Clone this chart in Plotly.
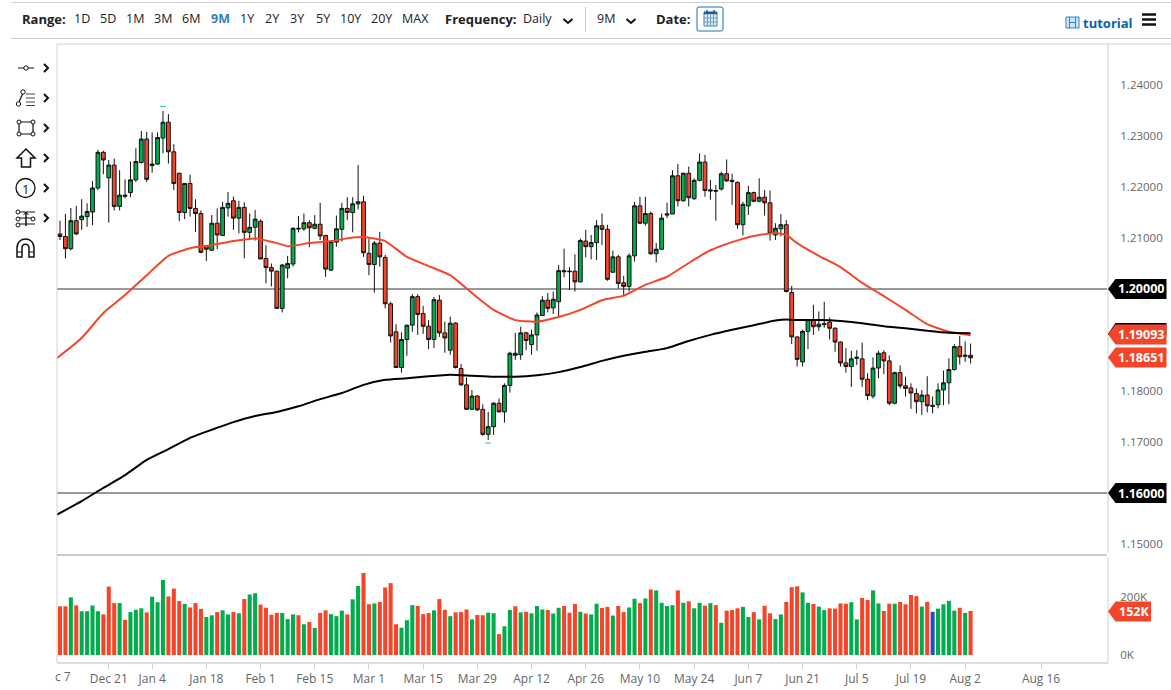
import re
import plotly.graph_objects as go

# candles, one value per trading day
opens = [1.2108,1.2103,1.2079,1.2134,1.2136,1.2142,1.2151,1.2198,1.2268,1.2218,
1.2243,1.2162,1.2184,1.2189,1.2214,1.2248,1.2294,1.2242,1.2245,1.2296,
1.2327,1.2269,1.2227,1.2150,1.2207,1.2158,1.2148,1.2085,1.2076,1.2129,
1.2105,1.2159,1.2173,1.2139,1.2160,1.2111,1.2121,1.2133,1.2060,1.2042,
1.2035,1.1962,1.2041,1.2049,1.2119,1.2118,1.2130,1.2119,1.2127,1.2105,
1.2037,1.2092,1.2117,1.2158,1.2150,1.2167,1.2171,1.2070,1.2048,1.2090,
1.2062,1.1971,1.1916,1.1846,1.1901,1.1929,1.1985,1.1952,1.1927,1.1901,
1.1978,1.1914,1.1880,1.1933,1.1844,1.1812,1.1764,1.1790,1.1764,1.1715,
1.1730,1.1776,1.1759,1.1811,1.1874,1.1871,1.1914,1.1891,1.1910,1.1948,
1.1978,1.1963,1.1975,1.2036,1.2035,1.2035,1.2014,1.2094,1.2083,1.2091,
1.2124,1.2117,1.2033,1.2063,1.2012,1.2005,1.2065,1.2163,1.2129,1.2148,
1.2069,1.2078,1.2145,1.2147,1.2222,1.2173,1.2227,1.2177,1.2213,1.2249,
1.2192,1.2193,1.2196,1.2226,1.2213,1.2209,1.2126,1.2163,1.2189,1.2172,
1.2180,1.2169,1.2106,1.2118,1.2126,1.1993,1.1906,1.1857,1.1917,1.1940,
1.1926,1.1930,1.1935,1.1923,1.1896,1.1855,1.1848,1.1864,1.1863,1.1823,
1.1790,1.1845,1.1875,1.1859,1.1776,1.1836,1.1810,1.1806,1.1795,1.1779,
1.1792,1.1772,1.1773,1.1802,1.1816,1.1842,1.1887,1.1868,1.1870]

highs = [1.2134,1.2147,1.2159,1.2163,1.2176,1.2168,1.2212,1.2273,1.2271,1.2253,
1.2256,1.2233,1.2215,1.2250,1.2276,1.2310,1.2308,1.2307,1.2307,1.2349,
1.2343,1.2284,1.2228,1.2208,1.2224,1.2176,1.2154,1.2086,1.2145,1.2158,
1.2171,1.2190,1.2181,1.2173,1.2170,1.2148,1.2155,1.2136,1.2086,1.2050,
1.2036,1.2049,1.2065,1.2121,1.2143,1.2148,1.2135,1.2145,1.2169,1.2106,
1.2096,1.2144,1.2169,1.2180,1.2180,1.2243,1.2183,1.2099,1.2094,1.2112,
1.2067,1.1975,1.1931,1.1915,1.1930,1.1990,1.1990,1.1967,1.1939,1.1984,
1.1988,1.1936,1.1946,1.1935,1.1853,1.1827,1.1802,1.1792,1.1774,1.1759,
1.1778,1.1785,1.1815,1.1877,1.1914,1.1926,1.1916,1.1920,1.1954,1.1986,
1.1992,1.1995,1.2047,1.2079,1.2043,1.2068,1.2099,1.2116,1.2106,1.2135,
1.2148,1.2126,1.2075,1.2067,1.2026,1.2070,1.2171,1.2181,1.2181,1.2152,
1.2090,1.2148,1.2169,1.2233,1.2245,1.2228,1.2240,1.2217,1.2266,1.2263,
1.2214,1.2204,1.2230,1.2254,1.2226,1.2211,1.2171,1.2202,1.2191,1.2217,
1.2194,1.2193,1.2129,1.2147,1.2135,1.2006,1.1907,1.1920,1.1941,1.1969,
1.1956,1.1975,1.1944,1.1925,1.1897,1.1884,1.1879,1.1880,1.1895,1.1835,
1.1866,1.1879,1.1880,1.1870,1.1838,1.1850,1.1828,1.1815,1.1805,1.1802,
1.1829,1.1789,1.1815,1.1840,1.1864,1.1892,1.1908,1.1897,1.1893]

lows = [1.2096,1.2060,1.2076,1.2106,1.2116,1.2122,1.2125,1.2194,1.2225,1.2130,
1.2154,1.2154,1.2178,1.2180,1.2210,1.2246,1.2210,1.2228,1.2243,1.2266,
1.2246,1.2194,1.2133,1.2137,1.2142,1.2112,1.2070,1.2055,1.2075,1.2078,
1.2104,1.2142,1.2116,1.2109,1.2060,1.2099,1.2095,1.2058,1.2011,1.2005,
1.1961,1.1954,1.2021,1.2044,1.2111,1.2114,1.2082,1.2117,1.2096,1.2024,
1.2036,1.2083,1.2093,1.2135,1.2111,1.2156,1.2063,1.2027,1.1993,1.2044,
1.1962,1.1895,1.1845,1.1836,1.1869,1.1916,1.1910,1.1912,1.1882,1.1884,
1.1906,1.1875,1.1871,1.1844,1.1810,1.1763,1.1763,1.1761,1.1712,1.1704,
1.1714,1.1758,1.1738,1.1797,1.1861,1.1861,1.1880,1.1871,1.1879,1.1947,
1.1954,1.1951,1.1944,1.2023,1.1998,1.1995,1.2013,1.2062,1.2058,1.2057,
1.2086,1.2016,1.2031,1.2001,1.1987,1.1995,1.2054,1.2127,1.2124,1.2067,
1.2052,1.2077,1.2139,1.2147,1.2162,1.2171,1.2162,1.2175,1.2211,1.2181,
1.2175,1.2134,1.2193,1.2210,1.2165,1.2118,1.2105,1.2145,1.2170,1.2170,
1.2144,1.2095,1.2096,1.2103,1.1993,1.1892,1.1848,1.1848,1.1882,1.1910,
1.1918,1.1924,1.1901,1.1877,1.1848,1.1836,1.1808,1.1851,1.1808,1.1782,
1.1785,1.1825,1.1833,1.1772,1.1774,1.1805,1.1789,1.1765,1.1756,1.1753,
1.1758,1.1756,1.1766,1.1772,1.1774,1.1840,1.1852,1.1857,1.1854]

closes = [1.2103,1.2079,1.2134,1.2108,1.2143,1.2152,1.2198,1.2268,1.2253,1.2243,
1.2162,1.2184,1.2182,1.2214,1.2250,1.2294,1.2215,1.2245,1.2297,1.2327,
1.2269,1.2207,1.2150,1.2207,1.2158,1.2148,1.2072,1.2078,1.2129,1.2106,
1.2160,1.2168,1.2139,1.2160,1.2111,1.2121,1.2137,1.2059,1.2042,1.2035,
1.1962,1.2047,1.2050,1.2119,1.2118,1.2130,1.2120,1.2127,1.2104,1.2039,
1.2093,1.2118,1.2158,1.2150,1.2167,1.2171,1.2071,1.2048,1.2090,1.2063,
1.1971,1.1908,1.1846,1.1901,1.1929,1.1985,1.1950,1.1927,1.1901,1.1979,
1.1914,1.1904,1.1933,1.1846,1.1812,1.1764,1.1790,1.1763,1.1715,1.1730,
1.1776,1.1759,1.1811,1.1874,1.1870,1.1914,1.1899,1.1910,1.1949,1.1978,
1.1962,1.1980,1.2036,1.2034,1.2034,1.2014,1.2095,1.2083,1.2091,1.2124,
1.2117,1.2019,1.2063,1.2011,1.2005,1.2065,1.2163,1.2129,1.2148,1.2069,
1.2078,1.2139,1.2147,1.2222,1.2173,1.2227,1.2179,1.2213,1.2249,1.2193,
1.2194,1.2192,1.2226,1.2212,1.2211,1.2126,1.2166,1.2189,1.2172,1.2180,
1.2169,1.2109,1.2119,1.2126,1.1995,1.1906,1.1862,1.1917,1.1940,1.1926,
1.1931,1.1932,1.1923,1.1896,1.1855,1.1848,1.1863,1.1866,1.1823,1.1791,
1.1845,1.1874,1.1859,1.1776,1.1836,1.1810,1.1805,1.1796,1.1779,1.1792,
1.1771,1.1770,1.1802,1.1816,1.1842,1.1887,1.1867,1.1870,1.18651]

# volume in thousands
volumes = [168,168,199,171,151,151,171,151,140,236,
179,179,121,148,156,161,147,201,182,259,
202,229,186,176,164,179,159,131,137,148,
154,140,148,144,193,209,213,174,163,139,
145,145,124,140,137,106,114,93,145,154,
141,134,153,140,192,238,283,175,178,183,
233,248,106,94,120,172,169,141,145,154,
193,156,134,147,148,157,123,138,137,146,
144,72,99,155,168,147,149,144,169,157,
155,143,163,169,146,176,149,143,140,177,
162,166,136,169,148,164,194,179,195,226,
223,180,169,172,223,180,185,161,180,170,
179,172,111,153,155,161,166,131,148,123,
170,144,124,140,183,234,237,216,180,176,
167,155,161,160,178,177,182,123,197,190,
223,178,152,177,177,183,175,207,203,167,
183,149,160,175,187,153,163,145,152]

# r = down day, g = up day, b = the one blue bar
vol_dir = list("rrgrggggrr" "rgrgggrggg" "rrrgrrrggr" "ggrgrggrrr" "rgggrgrgrr"
               "gggrggrrgr" "rrrgggrrrg" "rrgrrrgrrg" "grggrgrggg" "rggrrrgrgg"
               "rrgrrggrgr" "ggggrgrggr" "grgrrrggrg" "rrggrrrggr" "ggrrrrggrr"
               "ggrrgrrrrg" "rbggggrgr")

# moving averages read every few bars
ma_idx = [-1,4,8,12,16,20,24,28,32,36,40,42,46,50,54,56,60,64,68,72,76,80,84,88,92,96,
          100,104,108,112,116,120,124,128,132,134,136,140,144,148,152,156,160,164,168]
ma_red = [1.1861,1.1904,1.1953,1.1988,1.2027,1.2065,1.2080,1.2086,1.2094,1.2099,1.2090,
          1.2084,1.2090,1.2094,1.2101,1.2102,1.2094,1.2063,1.2045,1.2027,1.1992,1.1959,
          1.1939,1.1936,1.1945,1.1959,1.1978,1.1987,1.2008,1.2024,1.2051,1.2076,1.2092,
          1.2104,1.2110,1.2106,1.2090,1.2065,1.2043,1.2012,1.1986,1.1959,1.1931,1.1916,1.19093]
ma_black_idx = [-1,4,8,12,16,20,24,28,32,36,40,44,48,52,56,60,64,68,72,76,80,84,88,92,96,
                100,104,108,112,116,120,124,128,132,134,136,140,144,148,152,156,160,164,168]
ma_black = [1.1555,1.1584,1.1610,1.1635,1.1665,1.1686,1.1708,1.1724,1.1739,1.1751,1.1759,
            1.1770,1.1784,1.1796,1.1812,1.1822,1.1825,1.1829,1.1832,1.1830,1.1828,1.1828,
            1.1831,1.1837,1.1847,1.1859,1.1869,1.1877,1.1884,1.1898,1.1910,1.1920,1.1929,
            1.1938,1.1940,1.1939,1.1939,1.1937,1.1933,1.1927,1.1923,1.1918,1.1914,1.1913]

# little high / low marks
ext_idx = [19, 79]
ext_price = [1.2358, 1.1698]

levels = [1.20, 1.16]
price_ticks = [1.15, 1.17, 1.18, 1.21, 1.22, 1.23, 1.24]
date_idx = [9,17,27,37,47,57,67,77,87,97,107,117,127,137,147,157,167,181]
date_labels = ["Dec 21","Jan 4","Jan 18","Feb 1","Feb 15","Mar 1","Mar 15","Mar 29","Apr 12",
               "Apr 26","May 10","May 24","Jun 7","Jun 21","Jul 5","Jul 19","Aug 2","Aug 16"]
ranges = ["1D","5D","1M","3M","6M","9M","1Y","2Y","3Y","5Y","10Y","20Y","MAX"]

W, H = 1171, 690
RED, GREEN, BLUE = "#F4452A", "#00AD4C", "#1F4FBF"
FONT = "Open Sans"
GREY = "#666666"
LINK = "#0B5FA5"
INK = "#111111"

# chrome is placed in page pixels, paper coords cover the whole page
def fx(x):
    return x / W

def fy(y):
    return 1 - y / H

shapes = []
notes = []

def line(x0, y0, x1, y1, color="#D0D0D0", width=1):
    shapes.append(dict(type="line", xref="paper", yref="paper", x0=fx(x0), y0=fy(y0), x1=fx(x1), y1=fy(y1),
                       line=dict(color=color, width=width)))

def circle(cx, cy, r, color=INK, width=1, fill="white"):
    shapes.append(dict(type="circle", xref="paper", yref="paper", x0=fx(cx-r), y0=fy(cy-r), x1=fx(cx+r), y1=fy(cy+r),
                       line=dict(color=color, width=width), fillcolor=fill))

def path(d, color=INK, width=1, fill=None):
    # numbers in d are x y pairs in pixels
    nums = iter(range(10000))
    def conv(m):
        v = float(m.group())
        return str(fx(v)) if next(nums) % 2 == 0 else str(fy(v))
    s = dict(type="path", xref="paper", yref="paper", path=re.sub(r"-?\d+\.?\d*", conv, d),
             line=dict(color=color, width=width))
    if fill:
        s["fillcolor"] = fill
    shapes.append(s)

def txt(x, y, text, size=12.5, color="#222", anchor="center"):
    notes.append(dict(xref="paper", yref="paper", x=fx(x), y=fy(y), text=text, showarrow=False, xanchor=anchor,
                      yanchor="middle", font=dict(family=FONT, size=size, color=color)))

def tag(cy, text, color, right=1166.5):
    path(f"M 1108 {cy} L 1115.5 {cy-10} L {right} {cy-10} L {right} {cy+10} L 1115.5 {cy+10} Z",
         color=color, width=0, fill=color)
    txt((1116 + right) / 2, cy, f"<b>{text}</b>", size=12.5, color="white")

# frame lines
line(11, 2.5, 1171, 2.5)
line(11, 38.5, 1171, 38.5)
line(57, 44, 1171, 44)
line(57, 44, 57, 663)
line(57, 555, 1107, 555, color="#BBBBBB", width=1.5)
line(57, 663, 1108, 663, color="#DDDDDD", width=2)
line(1108, 44, 1108, 553)
line(1108, 557, 1108, 663)

# top toolbar
txt(20, 19, "<b>Range:</b>", size=13, anchor="left")
range_pos = [82,108,135,163,191,220,247,272,297,323,350,381,415]
for lab, px in zip(ranges, range_pos):
    if lab == "9M":
        txt(px, 19, "<b>9M</b>", size=12.5, color="#2F7FC1")
    else:
        txt(px, 19, lab, size=12.5)
txt(442.5, 19, "<b>Frequency:</b>", size=13, anchor="left")
txt(537, 19, "Daily", size=12.5)
path("M 563.5 19 L 568 23 L 572.5 19", width=2)
line(585.5, 7, 585.5, 32, color="#CCCCCC")
txt(606, 19, "9M", size=12.5)
path("M 626.5 19 L 631 23 L 635.5 19", width=2)
txt(674, 19, "<b>Date:</b>", size=13)

# calendar button
path("M 697 9 Q 697 7 699 7 L 721 7 Q 723 7 723 9 L 723 29 Q 723 31 721 31 L 699 31 Q 697 31 697 29 Z", color="#1F6FB0")
path("M 704 12 L 717 12 L 717 26 L 704 26 Z", color="#3F7FB5", fill="#DCE9F4")
line(704, 13, 717, 13, color="#1F5F90", width=2.5)
for gx in (707.5, 710.5, 713.5):
    line(gx, 14, gx, 26, color="#6FA0C8")
for gy in (18, 22):
    line(704, gy, 717, gy, color="#6FA0C8")
line(707, 10, 707, 13, color="#1F5F90", width=1.5)
line(714, 10, 714, 13, color="#1F5F90", width=1.5)

# tutorial link and menu
path("M 1066 17 L 1079 17 L 1079 28 L 1066 28 Z", color="#2F86C8", fill="#CFE5F5")
line(1069.5, 17, 1069.5, 28, color="#2F86C8")
line(1075.5, 17, 1075.5, 28, color="#2F86C8")
line(1069.5, 22.5, 1075.5, 22.5, color="#2F86C8")
txt(1107.5, 23, "<b>tutorial</b>", size=13, color=LINK)
for my in (14.5, 19.5, 24.5):
    line(1142, my, 1156, my, color=INK, width=2.5)

# drawing tools on the left
line(18, 68, 34, 68, color=INK)
circle(26, 68, 2.2)
line(19, 102, 22.5, 94, color=INK, width=1.2)
circle(18.5, 104, 2.2)
circle(23, 92, 2.2)
for ly in (94, 98, 102, 105.5):
    line(26, ly, 35, ly, color="#444444", width=1)
path("M 19 122 L 33 122 L 33 134 L 19 134 Z", width=1.2)
for cx, cy in ((19, 122), (33, 122), (19, 134), (33, 134)):
    circle(cx, cy, 2)
path("M 26 149 L 35 158 L 30.5 158 L 30.5 167 L 21.5 167 L 21.5 158 L 17 158 Z", width=1.5)
circle(25.5, 188, 9.5, width=1.3)
txt(25.5, 188.5, "1", size=13, color=INK)
line(17, 212, 35, 212, color=INK)
line(17, 218, 35, 218, color=INK)
line(17, 224, 35, 224, color=INK)
line(26, 212, 26, 226, color=INK, width=1.5)
path("M 23.5 215 L 26 212 L 28.5 215", width=1)
circle(18, 212, 2)
circle(18, 219, 2)
circle(18, 225, 2)
circle(33, 219, 2)
path("M 17 257 L 17 248 C 17 236 34 236 34 248 L 34 257 L 29 257 L 29 248 C 29 243 22 243 22 248 L 22 257 Z", width=1.5)
line(17, 252, 22, 252, color=INK)
line(29, 252, 34, 252, color=INK)
for cy in (68, 98, 128, 158, 188, 218):
    path(f"M 44 {cy-4} L 48 {cy} L 44 {cy+4}", width=2)

# price tags on the right
tag(289, "1.20000", "#000000")
tag(493, "1.16000", "#000000")
path("M 1108 334 L 1115.5 323 L 1166.5 323 L 1166.5 335 L 1108 335 Z", color="#000000", width=0, fill="#000000")
tag(334.5, "1.19093", RED)
tag(357.5, "1.18651", RED)
tag(611.5, "152K", RED, right=1151)

# clipped first date label
txt(63, 676, "c 7", size=12, color=GREY)

# horizontal levels sit on the price axis
for lv in levels:
    shapes.append(dict(type="line", xref="x domain", yref="y", x0=0, x1=1, y0=lv, y1=lv, layer="below",
                       line=dict(color="#777777", width=1.5)))

days = list(range(len(closes)))
colors = {"r": RED, "g": GREEN, "b": BLUE}

fig = go.Figure()
fig.add_trace(go.Candlestick(x=days, open=opens, high=highs, low=lows, close=closes,
                             increasing=dict(fillcolor=GREEN, line=dict(color=INK, width=1)),
                             decreasing=dict(fillcolor=RED, line=dict(color=INK, width=1))))
fig.add_trace(go.Scatter(x=ma_idx, y=ma_red, mode="lines", line=dict(color=RED, width=2, shape="spline", smoothing=0.5)))
fig.add_trace(go.Scatter(x=ma_black_idx, y=ma_black, mode="lines", line=dict(color="#000000", width=2, shape="spline", smoothing=0.5)))
fig.add_trace(go.Scatter(x=ext_idx, y=ext_price, mode="markers",
                         marker=dict(symbol="line-ew", size=4, line=dict(color="#2ECC71", width=1))))
fig.add_trace(go.Bar(x=days, y=volumes, yaxis="y2", marker=dict(color=[colors[d] for d in vol_dir], line=dict(width=0)), width=0.75))

date_font = dict(family=FONT, size=12, color=GREY)
price_font = dict(family=FONT, size=11.5, color=GREY)
fig.update_layout(
    width=W, height=H, autosize=False, showlegend=False, boxgap=0.3, boxgroupgap=0,
    margin=dict(l=0, r=0, t=0, b=0, pad=0),
    paper_bgcolor="white", plot_bgcolor="white",
    shapes=shapes, annotations=notes,
    xaxis=dict(domain=[57 / W, 1107 / W], range=[-0.5535, 193.17], anchor="y2", rangeslider=dict(visible=False),
               tickmode="array", tickvals=date_idx, ticktext=date_labels, ticks="outside", ticklen=5,
               tickcolor="#CCCCCC", tickfont=date_font, showgrid=False, zeroline=False, showline=False),
    yaxis=dict(domain=[1 - 555 / H, 1 - 44 / H], range=[1.14784, 1.24804], side="right", anchor="x",
               tickmode="array", tickvals=price_ticks, tickformat=".5f", ticks="outside", ticklen=10,
               tickcolor="white", tickfont=price_font, showgrid=False, zeroline=False, showline=False),
    yaxis2=dict(domain=[1 - 663 / H, 1 - 557 / H], range=[-27.6, 338], side="right", anchor="x",
                tickmode="array", tickvals=[0, 200], ticktext=["0K", "200K"], ticks="outside", ticklen=10,
                tickcolor="white", tickfont=price_font, showgrid=False, zeroline=False, showline=False),
)

fig.write_html("out.html", config={"displayModeBar": False},
               post_script="document.body.style.margin='0';document.body.style.overflow='hidden';")
